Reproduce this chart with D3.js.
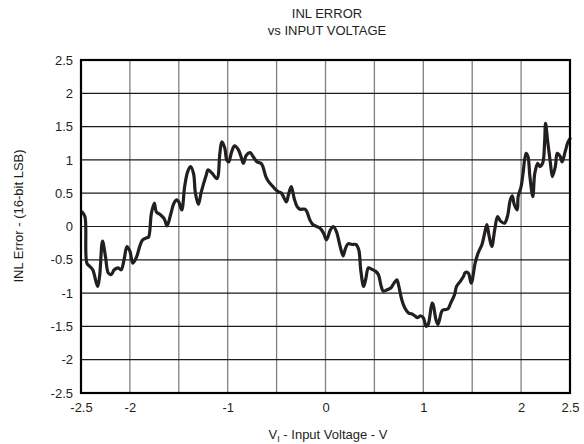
<!DOCTYPE html>
<html>
<head>
<meta charset="utf-8">
<script src="https://cdn.jsdelivr.net/npm/d3@7"></script>
<style>
  html, body { margin: 0; padding: 0; background: #fff; }
  svg { display: block; font-family: "Liberation Sans", Arial, sans-serif; }
</style>
</head>
<body>
<svg id="chart" width="584" height="444"></svg>
<script>
// Input voltage (V)
const voltage = [
  -2.49,-2.46,-2.44,-2.41,-2.38,-2.33,-2.31,-2.28,-2.25,-2.22,-2.19,-2.16,-2.12,-2.09,-2.06,-2.03,-2.00,-1.97,-1.93,-1.90,
  -1.87,-1.83,-1.81,-1.78,-1.75,-1.73,-1.69,-1.65,-1.62,-1.58,-1.55,-1.52,-1.50,-1.47,-1.44,-1.41,-1.38,-1.35,-1.33,-1.30,
  -1.27,-1.22,-1.20,-1.16,-1.11,-1.08,-1.06,-1.03,-1.01,-0.99,-0.96,-0.93,-0.89,-0.86,-0.84,-0.81,-0.77,-0.74,-0.70,-0.66,
  -0.64,-0.61,-0.58,-0.55,-0.52,-0.48,-0.45,-0.40,-0.38,-0.35,-0.32,-0.29,-0.26,-0.21,-0.19,-0.16,-0.13,-0.09,-0.06,-0.02,
  0.01,0.05,0.08,0.11,0.15,0.18,0.20,0.23,0.27,0.31,0.34,0.36,0.39,0.41,0.44,0.47,0.51,0.54,0.57,0.59,
  0.63,0.67,0.70,0.73,0.75,0.78,0.81,0.85,0.88,0.92,0.94,0.97,1.00,1.03,1.05,1.09,1.10,1.13,1.15,1.19,
  1.21,1.25,1.28,1.32,1.34,1.38,1.41,1.43,1.46,1.49,1.53,1.56,1.60,1.62,1.65,1.67,1.70,1.73,1.76,1.79,
  1.83,1.86,1.89,1.91,1.93,1.96,1.97,2.00,2.02,2.05,2.07,2.09,2.12,2.14,2.17,2.19,2.22,2.24,2.25,2.27,
  2.30,2.32,2.35,2.37,2.40,2.42,2.45,2.48,2.50
];
// INL error (16-bit LSB)
const inlError = [
  0.22,0.15,-0.55,-0.60,-0.65,-0.90,-0.75,-0.22,-0.45,-0.70,-0.72,-0.65,-0.62,-0.65,-0.50,-0.30,-0.37,-0.55,-0.45,-0.30,
  -0.20,-0.17,-0.16,0.20,0.35,0.22,0.18,0.12,0.01,0.20,0.35,0.40,0.37,0.25,0.60,0.82,0.90,0.80,0.50,0.33,
  0.52,0.77,0.85,0.80,0.72,1.10,1.27,1.18,1.00,0.97,1.12,1.21,1.15,1.03,0.95,1.07,1.11,1.05,0.97,0.95,
  0.90,0.75,0.67,0.62,0.57,0.52,0.50,0.37,0.47,0.60,0.42,0.30,0.26,0.26,0.22,0.10,0.03,0.00,-0.02,-0.10,
  -0.20,-0.05,0.00,-0.07,-0.30,-0.44,-0.35,-0.26,-0.27,-0.27,-0.35,-0.65,-0.90,-0.80,-0.62,-0.64,-0.67,-0.72,-0.90,-0.97,
  -0.95,-0.92,-0.85,-0.80,-0.90,-1.10,-1.22,-1.30,-1.31,-1.35,-1.37,-1.34,-1.37,-1.50,-1.47,-1.15,-1.17,-1.40,-1.47,-1.27,
  -1.25,-1.24,-1.15,-1.02,-0.90,-0.82,-0.75,-0.69,-0.70,-0.85,-0.55,-0.40,-0.27,-0.15,0.03,-0.12,-0.30,-0.05,0.15,0.08,
  0.05,0.15,0.40,0.46,0.33,0.25,0.45,0.60,0.80,1.10,1.05,0.75,0.45,0.80,0.95,0.90,0.95,1.25,1.55,1.30,
  0.95,0.75,0.90,1.10,1.05,0.97,1.12,1.27,1.32
];
const xTickValues = [-2.5, -2, -1, 0, 1, 2, 2.5];
const xGridValues = [-2.5,-2,-1.5,-1,-0.5,0,0.5,1,1.5,2,2.5];
const yTickValues = [-2.5,-2,-1.5,-1,-0.5,0,0.5,1,1.5,2,2.5];
const titleLines = ["INL ERROR", "vs INPUT VOLTAGE"];

const W = 584, H = 444;
const margin = {left: 81, top: 60, right: 14, bottom: 51};
const svg = d3.select("#chart");
const x = d3.scaleLinear().domain([-2.5, 2.5]).range([margin.left, W - margin.right]);
const y = d3.scaleLinear().domain([-2.5, 2.5]).range([H - margin.bottom, margin.top]);

// grid
svg.append("g").selectAll("line").data(xGridValues).join("line")
  .attr("x1", d => x(d)).attr("x2", d => x(d))
  .attr("y1", y(2.5)).attr("y2", y(-2.5))
  .attr("stroke", "#808080").attr("stroke-width", 1.3);
svg.append("g").selectAll("line").data(yTickValues).join("line")
  .attr("x1", x(-2.5)).attr("x2", x(2.5))
  .attr("y1", d => y(d)).attr("y2", d => y(d))
  .attr("stroke", "#1a1a1a").attr("stroke-width", 1.2);

// axes (labels only)
const fmt = d => String(d);
const xAxis = svg.append("g").attr("transform", `translate(0,${y(-2.5)})`)
  .call(d3.axisBottom(x).tickValues(xTickValues).tickFormat(fmt).tickSize(0).tickPadding(10));
const yAxis = svg.append("g").attr("transform", `translate(${x(-2.5)},0)`)
  .call(d3.axisLeft(y).tickValues(yTickValues).tickFormat(fmt).tickSize(0).tickPadding(8));
[xAxis, yAxis].forEach(a => {
  a.select(".domain").remove();
  a.selectAll("text").attr("font-size", 13).attr("fill", "#231f20")
    .attr("font-family", "'Liberation Sans', Arial, sans-serif");
});

// data line
const line = d3.line().x((d, i) => x(voltage[i])).y(d => y(d)).curve(d3.curveCatmullRom.alpha(0.5));
svg.append("path").datum(inlError)
  .attr("d", line).attr("fill", "none")
  .attr("stroke", "#231f20").attr("stroke-width", 3.2)
  .attr("stroke-linejoin", "round").attr("stroke-linecap", "round");

// frame
svg.append("rect")
  .attr("x", x(-2.5)).attr("y", y(2.5))
  .attr("width", x(2.5) - x(-2.5)).attr("height", y(-2.5) - y(2.5))
  .attr("fill", "none").attr("stroke", "#000").attr("stroke-width", 2.2);

// title
svg.append("text").attr("x", 327).attr("y", 18).attr("text-anchor", "middle")
  .attr("font-size", 13).attr("fill", "#231f20")
  .selectAll("tspan").data(titleLines).join("tspan")
  .attr("x", 327).attr("dy", (d, i) => i === 0 ? 0 : 17).text(d => d);

// x title
const xt = svg.append("text").attr("x", 328).attr("y", 439).attr("text-anchor", "middle")
  .attr("font-size", 13).attr("fill", "#231f20");
xt.append("tspan").text("V");
xt.append("tspan").attr("font-size", 9).attr("dy", 3).text("I");
xt.append("tspan").attr("dy", -3).text(" - Input Voltage - V");

// y title
svg.append("text").attr("transform", `translate(23,216) rotate(-90)`)
  .attr("text-anchor", "middle").attr("font-size", 13).attr("fill", "#231f20")
  .text("INL Error - (16-bit LSB)");
</script>
</body>
</html>
